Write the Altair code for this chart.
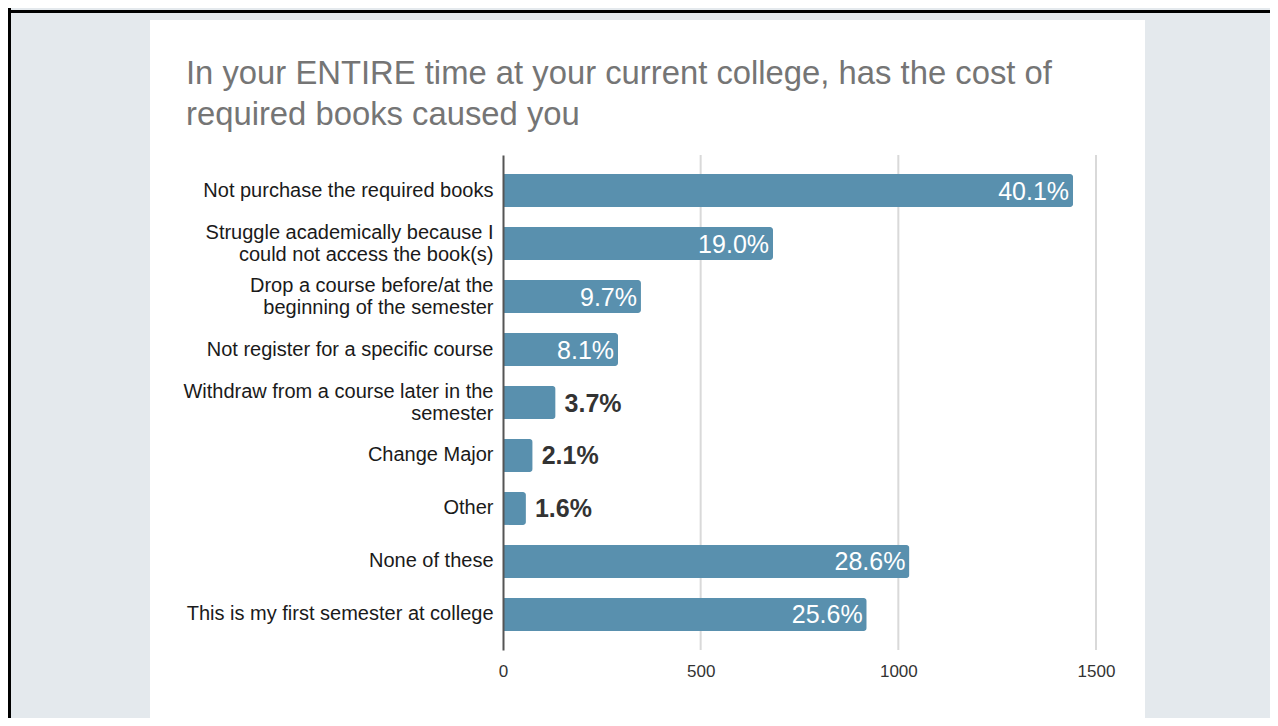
import altair as alt
import pandas as pd

categories = [
    "Not purchase the required books",
    "Struggle academically because I\ncould not access the book(s)",
    "Drop a course before/at the\nbeginning of the semester",
    "Not register for a specific course",
    "Withdraw from a course later in the\nsemester",
    "Change Major",
    "Other",
    "None of these",
    "This is my first semester at college",
]
counts = [1442, 683, 349, 291, 133, 75, 58, 1028, 920]
percent_labels = ["40.1%", "19.0%", "9.7%", "8.1%", "3.7%", "2.1%", "1.6%", "28.6%", "25.6%"]
x_ticks = [0, 500, 1000, 1500]
title_lines = [
    "In your ENTIRE time at your current college, has the cost of",
    "required books caused you",
]

df = pd.DataFrame({"cat": categories, "count": counts, "pct": percent_labels})
ticks_df = pd.DataFrame({"tick": x_ticks[1:]})

FONT = "Liberation Sans"
BAR = "#5990ae"

y_enc = alt.Y(
    "cat:N",
    sort=categories,
    title=None,
    scale=alt.Scale(paddingInner=0.38, paddingOuter=0.36),
    axis=alt.Axis(
        labelExpr="split(datum.value, '\\n')",
        labelFont=FONT,
        labelFontSize=20,
        labelColor="#1a1a1a",
        labelLineHeight=22,
        labelLimit=400,
        labelPadding=10,
        labelOffset={
            "condition": {"test": "indexof(datum.value, '\\n') >= 0", "value": -11},
            "value": 0,
        },
        ticks=False,
        domainColor="#555555",
        domainWidth=2,
        grid=False,
        zindex=1,
    ),
)
x_enc = alt.X(
    "count:Q",
    title=None,
    scale=alt.Scale(domain=[0, 1500], nice=False),
    axis=alt.Axis(
        values=x_ticks,
        format="d",
        domain=False,
        ticks=False,
        grid=False,
        labelFont=FONT,
        labelFontSize=17,
        labelColor="#333333",
        labelPadding=13,
        labelFlush=False,
        zindex=1,
    ),
)

base = alt.Chart(df)

panel = base.mark_rect(color="white").encode(
    x=alt.value(-353), x2=alt.value(642), y=alt.value(-135), y2=alt.value(563)
)
frame_left = base.mark_rect(color="black").encode(
    x=alt.value(-495), x2=alt.value(-492), y=alt.value(-147), y2=alt.value(563)
)
frame_top = base.mark_rect(color="black").encode(
    x=alt.value(-495), x2=alt.value(767), y=alt.value(-145), y2=alt.value(-142)
)

grid = alt.Chart(ticks_df).mark_rule(color="#d9d9d9", strokeWidth=2).encode(
    x=alt.X("tick:Q", scale=alt.Scale(domain=[0, 1500], nice=False)),
    y=alt.value(0),
    y2=alt.value(495),
)

title = alt.Chart(pd.DataFrame({"t": [title_lines]})).mark_text(
    align="left", baseline="alphabetic", font=FONT, fontSize=32.8,
    color="#757575", lineHeight=41,
).encode(x=alt.value(-317), y=alt.value(-71), text="t")

bars = base.mark_bar(color=BAR, cornerRadiusEnd=3).encode(x=x_enc, y=y_enc)

inside = base.transform_filter("datum.count > 200").mark_text(
    align="right", baseline="middle", dx=-4, dy=1, font=FONT, fontSize=25, color="white"
).encode(x="count:Q", y=alt.Y("cat:N", sort=categories), text="pct:N")

outside = base.transform_filter("datum.count <= 200").mark_text(
    align="left", baseline="middle", dx=9, dy=1, font=FONT, fontSize=25,
    fontWeight="bold", color="#333333"
).encode(x="count:Q", y=alt.Y("cat:N", sort=categories), text="pct:N")

chart = alt.layer(panel, frame_left, frame_top, grid, bars, inside, outside, title).properties(
    width=593,
    height=495,
    background="#e4e9ed",
    padding={"left": 495, "top": 147, "right": 174, "bottom": 68},
    autosize=alt.AutoSizeParams(type="none"),
).configure_view(stroke=None)

chart.save("out.html", embed_options={"renderer": "svg", "actions": False})
